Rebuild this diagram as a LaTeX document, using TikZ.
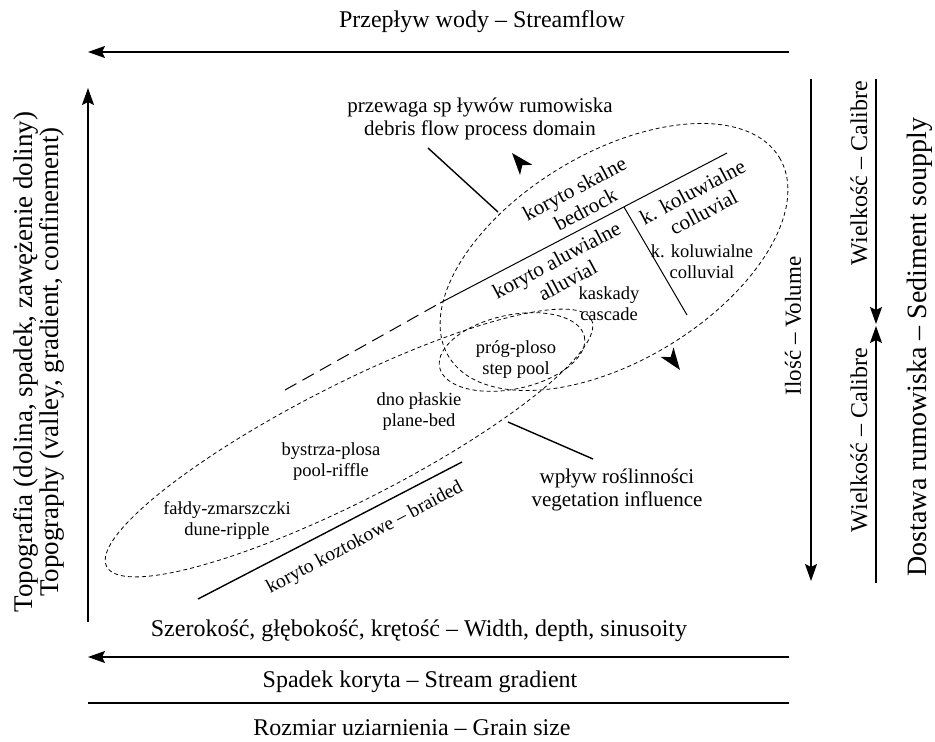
\documentclass[tikz,border=0pt]{standalone}
\usepackage{fontspec}
\setmainfont{Liberation Serif}
\usetikzlibrary{arrows.meta,positioning,calc}
\tikzset{
  axis/.style = {line width=1.4pt, -{Stealth[length=17pt,width=12pt,inset=3pt]}},
  plain/.style = {line width=1.4pt},
  thinline/.style = {line width=1pt},
  procline/.style = {line width=0.8pt, dash pattern=on 4pt off 3pt},
  longdash/.style = {line width=1pt, dash pattern=on 13pt off 7pt},
  bigtxt/.style = {font=\fontsize{24}{23}\selectfont, inner sep=0pt, align=center},
  midtxt/.style = {font=\fontsize{21}{23.5}\selectfont, inner sep=0pt, align=center},
  smalltxt/.style = {font=\fontsize{18.5}{21}\selectfont, inner sep=0pt, align=center},
}
\begin{document}
\begin{tikzpicture}[x=1pt,y=-1pt]
  \useasboundingbox (0,0) rectangle (935,742);

  % free arrow heads
  \def\tipmark#1#2{%
    \fill[rotate around={#2:(#1)}] (#1) -- ($(#1)+(-22,-8)$) -- ($(#1)+(-16,0)$)
      -- ($(#1)+(-22,8)$) -- cycle;
  }

  % frame arrows
  \coordinate (flowR) at (789,52);  \coordinate (flowL) at (88,52);
  \coordinate (topoB) at (88,622);  \coordinate (topoT) at (88,88);
  \coordinate (widR) at (789,657);  \coordinate (widL) at (88,657);
  \coordinate (gradR) at (789,703); \coordinate (gradL) at (88,703);
  \coordinate (volT) at (811,79);   \coordinate (volB) at (811,581);
  \coordinate (calT) at (876,79);   \coordinate (calB) at (876,583);
  \coordinate (calM) at (876,325);

  \draw[axis] (flowR) -- (flowL);
  \draw[axis] (topoB) -- (topoT);
  \draw[axis] (widR) -- (widL);
  \draw[plain] (gradR) -- (gradL);
  \draw[axis] (volT) -- (volB);
  \draw[axis] (calT) -- ($(calM)+(0,-1)$);
  \draw[axis] (calB) -- ($(calM)+(0,1)$);

  \node[bigtxt] (flow) at (482,22) {Przepływ wody -- Streamflow};
  \node[bigtxt] (width) at (419,631) {Szerokość, głębokość, krętość -- Width, depth, sinusoity};
  \node[bigtxt] (grad) at (420,682) {Spadek koryta -- Stream gradient};
  \node[bigtxt] (grain) at (412,728) {Rozmiar uziarnienia -- Grain size};
  \node[bigtxt, font=\fontsize{27}{23}\selectfont, rotate=90] (topo) at (38.5,362)
    {Topografia (dolina, spadek, zawężenie doliny)\\Topography (valley, gradient, confinement)};
  \node[bigtxt, font=\fontsize{23}{23}\selectfont, rotate=90] (vol) at (793,326) {Ilość -- Volume};
  \node[bigtxt, rotate=90] (calUp) at (859,173) {Wielkość -- Calibre};
  \node[bigtxt, rotate=90] (calDn) at (859,440) {Wielkość -- Calibre};
  \node[bigtxt, font=\fontsize{28}{23}\selectfont, rotate=90] (supply) at (920,347)
    {Dostawa rumowiska -- Sediment soupply};

  % process domains
  \draw[procline, rotate around={31:(614,257)}] (614,257) ellipse [x radius=193, y radius=104];
  \draw[procline, rotate around={27:(349,443)}] (349,443) ellipse [x radius=272, y radius=58];
  \draw[procline, rotate around={12:(512,352)}] (512,352) ellipse [x radius=74, y radius=37];

  \coordinate (alA) at (440,303); \coordinate (alB) at (727,153);
  \coordinate (alC) at (285,390);
  \coordinate (spA) at (624,207); \coordinate (spB) at (687,315);
  \draw[thinline] (alA) -- (alB);
  \draw[longdash] (alC) -- (alA);
  \draw[thinline] (spA) -- (spB);

  \coordinate (debA) at (428,148); \coordinate (debB) at (498,212);
  \coordinate (vegA) at (508,422); \coordinate (vegB) at (593,459);
  \coordinate (brA) at (198,599);  \coordinate (brB) at (462,462);
  \draw[plain] (debA) -- (debB);
  \draw[plain] (vegA) -- (vegB);
  \draw[plain] (brA) -- (brB);

  \coordinate (tipUp) at (512,153);
  \coordinate (tipDn) at (680,370);
  \tipmark{tipUp}{130}
  \tipmark{tipDn}{-54}

  \node[midtxt] (debris) at (480,119) {przewaga sp ływów rumowiska\\debris flow process domain};
  \node[midtxt, rotate=28] (bedrock) at (580,199) {koryto skalne\\bedrock};
  \node[midtxt, rotate=28] (alluv) at (562,270) {koryto aluwialne\\alluvial};
  \node[midtxt, rotate=28] (colluvA) at (698,202) {k. koluwialne\\colluvial};
  \node[smalltxt] (colluvB) at (702,262) {k. koluwialne\\colluvial};
  \node[smalltxt] (cascade) at (609,304) {kaskady\\cascade};
  \node[smalltxt] (step) at (516,360) {próg-ploso\\step pool};
  \node[smalltxt] (plane) at (419,412) {dno płaskie\\plane-bed};
  \node[smalltxt] (riffle) at (331,462) {bystrza-plosa\\pool-riffle};
  \node[smalltxt] (dune) at (227,520) {fałdy-zmarszczki\\dune-ripple};
  \node[smalltxt, font=\fontsize{19.5}{22}\selectfont, rotate=28] (braided) at (365,538)
    {koryto koztokowe -- braided};
  \node[midtxt] (veget) at (617,490) {wpływ roślinności\\vegetation influence};
\end{tikzpicture}
\end{document}
